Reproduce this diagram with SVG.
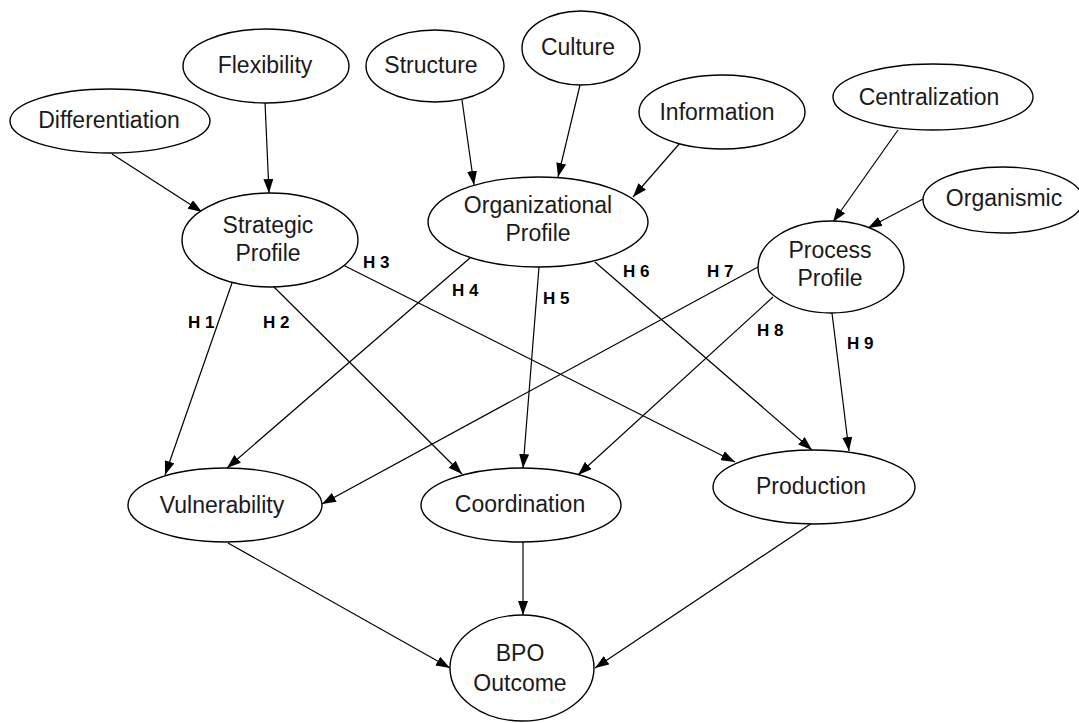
<svg xmlns="http://www.w3.org/2000/svg" width="1079" height="723" viewBox="0 0 1079 723">
<style>
.n{fill:#fff;stroke:#000;stroke-width:1.4}
.t{font-family:"Liberation Sans",Arial,sans-serif;font-size:23px;fill:#1a1a1a;text-anchor:middle}
.e{stroke:#000;stroke-width:1.2;fill:none;marker-end:url(#ah)}
.h{font-family:"Liberation Sans",Arial,sans-serif;font-size:17px;font-weight:bold;fill:#000}
</style>
<defs>
<marker id="ah" markerUnits="userSpaceOnUse" markerWidth="14" markerHeight="10" refX="14" refY="5" orient="auto">
<path d="M0,0 L14,5 L0,10 z" fill="#000"/>
</marker>
</defs>
<rect width="1079" height="723" fill="#fff"/>
<g id="connectors">
<path class="e" d="M112,154 L202,212"/>
<path class="e" d="M265,102 L269,193"/>
<path class="e" d="M462,100 L474,185"/>
<path class="e" d="M580,85 L558,177"/>
<path class="e" d="M680,143 L633,197"/>
<path class="e" d="M898,130 L833,222"/>
<path class="e" d="M923,199 L868,228"/>
<path class="e" d="M232,283 L165,475"/>
<path class="e" d="M272,285 L462,474"/>
<path class="e" d="M343,265 L735,462"/>
<path class="e" d="M470,258 L227,468"/>
<path class="e" d="M539,267 L523,468"/>
<path class="e" d="M595,262 L812,450"/>
<path class="e" d="M758,267 L322,504"/>
<path class="e" d="M773,297 L578,475"/>
<path class="e" d="M832,313 L849,451"/>
<path class="e" d="M228,543 L450,668"/>
<path class="e" d="M523,542 L523,615"/>
<path class="e" d="M812,523 L595,668"/>
<text class="h" x="188" y="328">H 1</text>
<text class="h" x="263" y="328">H 2</text>
<text class="h" x="363" y="268">H 3</text>
<text class="h" x="452" y="296">H 4</text>
<text class="h" x="543" y="304">H 5</text>
<text class="h" x="623" y="277">H 6</text>
<text class="h" x="707" y="277">H 7</text>
<text class="h" x="757" y="336">H 8</text>
<text class="h" x="847" y="349">H 9</text>
</g>
<g id="differentiation"><ellipse class="n" cx="110" cy="121" rx="100" ry="32"/><text class="t" x="109" y="128">Differentiation</text></g>
<g id="flexibility"><ellipse class="n" cx="266" cy="66" rx="83" ry="37"/><text class="t" x="265" y="73">Flexibility</text></g>
<g id="strategic"><ellipse class="n" cx="270" cy="240" rx="88" ry="47"/><text class="t" x="268" y="233">Strategic</text><text class="t" x="268" y="261">Profile</text></g>
<g id="structure"><ellipse class="n" cx="435" cy="66" rx="69" ry="36"/><text class="t" x="431" y="73">Structure</text></g>
<g id="culture"><ellipse class="n" cx="581" cy="48" rx="59" ry="37"/><text class="t" x="578" y="55">Culture</text></g>
<g id="information"><ellipse class="n" cx="722" cy="112" rx="83" ry="37"/><text class="t" x="717" y="120">Information</text></g>
<g id="organizational"><ellipse class="n" cx="538" cy="222" rx="110" ry="45"/><text class="t" x="538" y="213">Organizational</text><text class="t" x="538" y="241">Profile</text></g>
<g id="centralization"><ellipse class="n" cx="933" cy="97" rx="100" ry="33"/><text class="t" x="929" y="105">Centralization</text></g>
<g id="organismic"><ellipse class="n" cx="1003" cy="200" rx="80" ry="33"/><text class="t" x="1004" y="206">Organismic</text></g>
<g id="process"><ellipse class="n" cx="831" cy="267" rx="73" ry="46"/><text class="t" x="830" y="258">Process</text><text class="t" x="830" y="286">Profile</text></g>
<g id="vulnerability"><ellipse class="n" cx="225" cy="505" rx="97" ry="37"/><text class="t" x="222" y="513">Vulnerability</text></g>
<g id="coordination"><ellipse class="n" cx="521" cy="505" rx="100" ry="37"/><text class="t" x="520" y="512">Coordination</text></g>
<g id="production"><ellipse class="n" cx="814" cy="487" rx="101" ry="37"/><text class="t" x="811" y="494">Production</text></g>
<g id="bpo"><ellipse class="n" cx="522" cy="668" rx="72" ry="53"/><text class="t" x="520" y="661">BPO</text><text class="t" x="520" y="691">Outcome</text></g>
</svg>
